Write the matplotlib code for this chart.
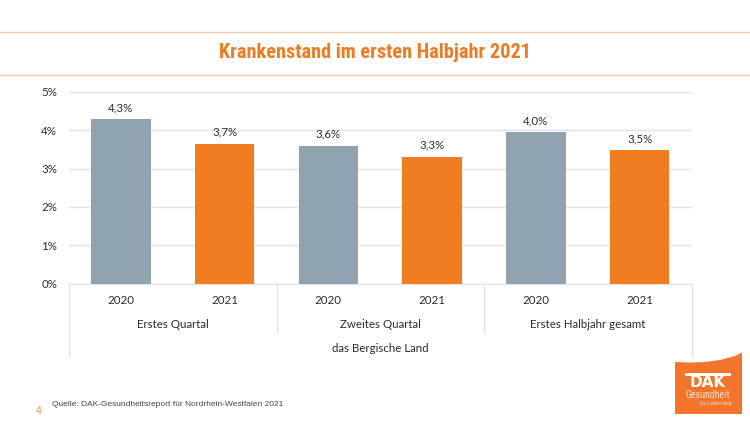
import matplotlib
matplotlib.use("Agg")
import matplotlib.pyplot as plt
import numpy as np
from matplotlib.patches import Polygon, Rectangle

W, H = 750, 421

years = ["2020", "2021", "2020", "2021", "2020", "2021"]
groups = ["Erstes Quartal", "Zweites Quartal", "Erstes Halbjahr gesamt"]
outer_label = "das Bergische Land"
values = [4.29, 3.64, 3.59, 3.31, 3.95, 3.48]
value_labels = ["4,3%", "3,7%", "3,6%", "3,3%", "4,0%", "3,5%"]
yticks = [0, 1, 2, 3, 4, 5]

GREY = "#8FA3B1"
ORANGE = "#F07D22"
TITLE_ORANGE = "#EE7A22"
RULE = "#F9C9A4"
GRID = "#E3E3E3"
TEXT = "#2B2B2B"
chart_font = "Lato"
label_size = 8.3

fig = plt.figure(figsize=(W / 100, H / 100), dpi=100, facecolor="white")

# slide layer in pixel coordinates
bg = fig.add_axes([0, 0, 1, 1])
bg.set_xlim(0, W)
bg.set_ylim(H, 0)
bg.axis("off")

bg.plot([0, W], [31.5, 31.5], color=RULE, lw=1)
bg.plot([0, W], [74.5, 74.5], color=RULE, lw=1)
bg.text(375, 53, "Krankenstand im ersten Halbjahr 2021", ha="center", va="center",
        color=TITLE_ORANGE, fontsize=14.6, fontweight="bold", family="Roboto Condensed")
bg.text(52, 404.5, "Quelle: DAK-Gesundheitsreport für Nordrhein-Westfalen 2021", ha="left", va="center",
        color="#444444", fontsize=6.0, family="Liberation Sans")
bg.text(39, 411, "4", ha="center", va="center", color="#F58A4B", fontsize=7.5, family="Liberation Sans")

# chart
x0, x1, y0, y5 = 69, 691.5, 283.5, 92
ax = fig.add_axes([x0 / W, 1 - y0 / H, (x1 - x0) / W, (y0 - y5) / H])
ax.patch.set_alpha(0)
x = np.arange(len(values))
colors = [GREY, ORANGE] * 3
ax.bar(x, values, width=0.573, color=colors, zorder=3)
ax.set_xlim(-0.5, 5.5)
ax.set_ylim(0, 5)
ax.set_yticks(yticks)
ax.set_yticklabels([f"{t}%" for t in yticks], family=chart_font, fontsize=label_size, color=TEXT)
ax.set_xticks([])
ax.tick_params(axis="y", length=0, pad=8.5)
ax.grid(axis="y", color=GRID, lw=1, zorder=0)
ax.set_axisbelow(True)
for s in ["top", "right", "left"]:
    ax.spines[s].set_visible(False)
ax.spines["bottom"].set_color(GRID)

for xi, v, lab in zip(x, values, value_labels):
    ax.annotate(lab, (xi, v), xytext=(0, 4.5), textcoords="offset points", ha="center", va="bottom",
                family=chart_font, fontsize=label_size, color=TEXT, zorder=4)

# multi level category axis below the bars
for xi, year in zip(x, years):
    bg.text(x0 + (xi + 0.5) * (x1 - x0) / 6, 300, year, ha="center", va="center",
            family=chart_font, fontsize=label_size, color=TEXT)
for i, group in enumerate(groups):
    bg.text(x0 + (i + 0.5) * (x1 - x0) / 3, 324, group, ha="center", va="center",
            family=chart_font, fontsize=label_size, color=TEXT)
bg.text((x0 + x1) / 2, 348, outer_label, ha="center", va="center",
        family=chart_font, fontsize=label_size, color=TEXT)
for px, bottom in [(x0, 356), (x0 + (x1 - x0) / 3, 332), (x0 + 2 * (x1 - x0) / 3, 332), (x1, 356)]:
    bg.plot([px, px], [y0, bottom], color=GRID, lw=1)

# DAK logo
top_x = np.array([675, 690, 705, 720, 735, 742])
top_y = np.array([362, 362.5, 362, 360, 356, 352.5])
logo = Polygon(list(zip(top_x, top_y)) + [(742, 414), (675, 414)], closed=True, color="#F2752B", lw=0)
bg.add_patch(logo)
bg.add_patch(Rectangle((685, 373), 46, 2.5, color="white", lw=0))
bg.text(708, 382.5, "DAK", ha="center", va="center", color="white", fontsize=11, fontweight="bold",
        family="DejaVu Sans")
bg.text(708, 395.5, "Gesundheit", ha="center", va="center", color="#FBE3D2", fontsize=7.2,
        family="Roboto Condensed")
bg.text(716, 403.5, "Ein Leben lang.", ha="center", va="center", color="#FBE3D2", fontsize=3.3,
        style="italic", family="Liberation Sans")

fig.savefig("out.png", dpi=100)
